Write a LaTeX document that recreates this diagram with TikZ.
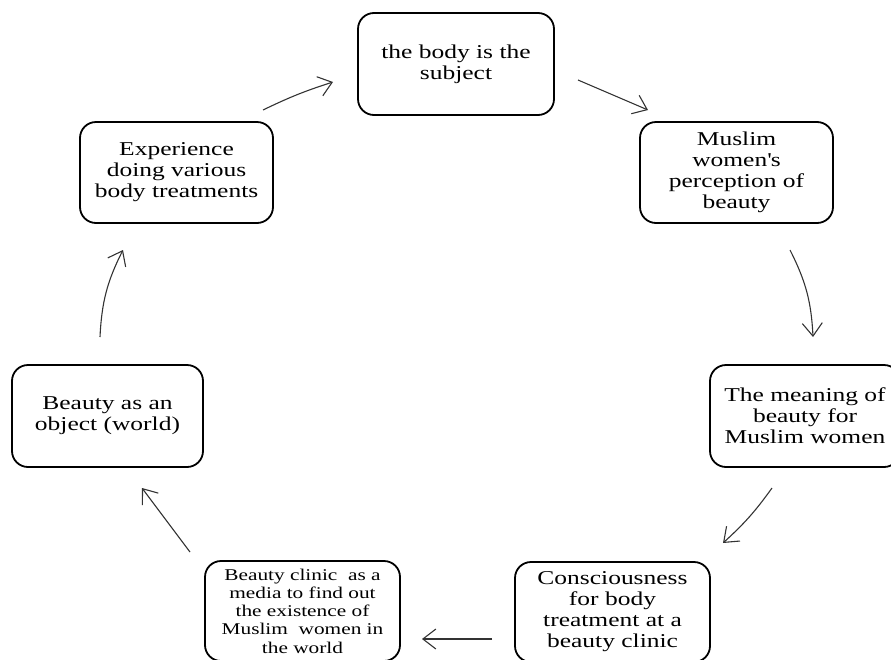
\documentclass[tikz,border=0pt]{standalone}
\usepackage{fontspec}
\setmainfont[FakeStretch=1.3]{Liberation Serif}
\usetikzlibrary{arrows.meta}
\begin{document}
\begin{tikzpicture}[x=1pt,y=-1pt,
  box/.style={draw, line width=1.8pt, rounded corners=16pt, align=center, inner sep=0pt,
    font=\fontsize{19.6}{21}\selectfont},
  smallbox/.style={box, font=\fontsize{16.4}{18.3}\selectfont},
  arr/.style={draw=black!80, line width=1.1pt, -{Straight Barb[length=13pt,width=20pt]}}]
\useasboundingbox (0,0) rectangle (891,659);
\node[box, minimum width=196pt, minimum height=102pt] (n1) at (456,64) {the body is the\\subject};
\node[box, minimum width=193pt, minimum height=101pt] (n2) at (736.5,172.5) {Muslim\\women\textquotesingle s\\perception of\\beauty};
\node[box, minimum width=190pt, minimum height=102pt] (n3) at (805,416) {The meaning of\\beauty for\\Muslim women};
\node[box, minimum width=195pt, minimum height=100pt] (n4) at (612.5,612) {Consciousness\\for body\\treatment at a\\beauty clinic};
\node[smallbox, minimum width=195pt, minimum height=100pt] (n5) at (302.5,611) {Beauty clinic\ \ as a\\media to find out\\the existence of\\Muslim\ \ women in\\the world};
\node[box, minimum width=191pt, minimum height=102pt] (n6) at (107.5,416) {Beauty as an\\object (world)};
\node[box, minimum width=193pt, minimum height=101pt] (n7) at (176.5,172.5) {Experience\\doing various\\body treatments};
% arrow end points
\coordinate (a71s) at (263,110); \coordinate (a71e) at (333,82);
\coordinate (a12s) at (578,80);  \coordinate (a12e) at (648,110);
\coordinate (a23s) at (790,250); \coordinate (a23e) at (813,337);
\coordinate (a34s) at (772,488); \coordinate (a34e) at (723,543);
\coordinate (a45s) at (492,639); \coordinate (a45e) at (422,639);
\coordinate (a56s) at (190,552); \coordinate (a56e) at (142,488);
\coordinate (a67s) at (100,337); \coordinate (a67e) at (123,250);
\draw[arr] (a71s) to[bend left=4] (a71e);
\draw[arr] (a12s) to (a12e);
\draw[arr] (a23s) to[bend left=12] (a23e);
\draw[arr] (a34s) to[bend left=6] (a34e);
\draw[arr] (a45s) to (a45e);
\draw[arr] (a56s) to (a56e);
\draw[arr] (a67s) to[bend left=12] (a67e);
\end{tikzpicture}
\end{document}
